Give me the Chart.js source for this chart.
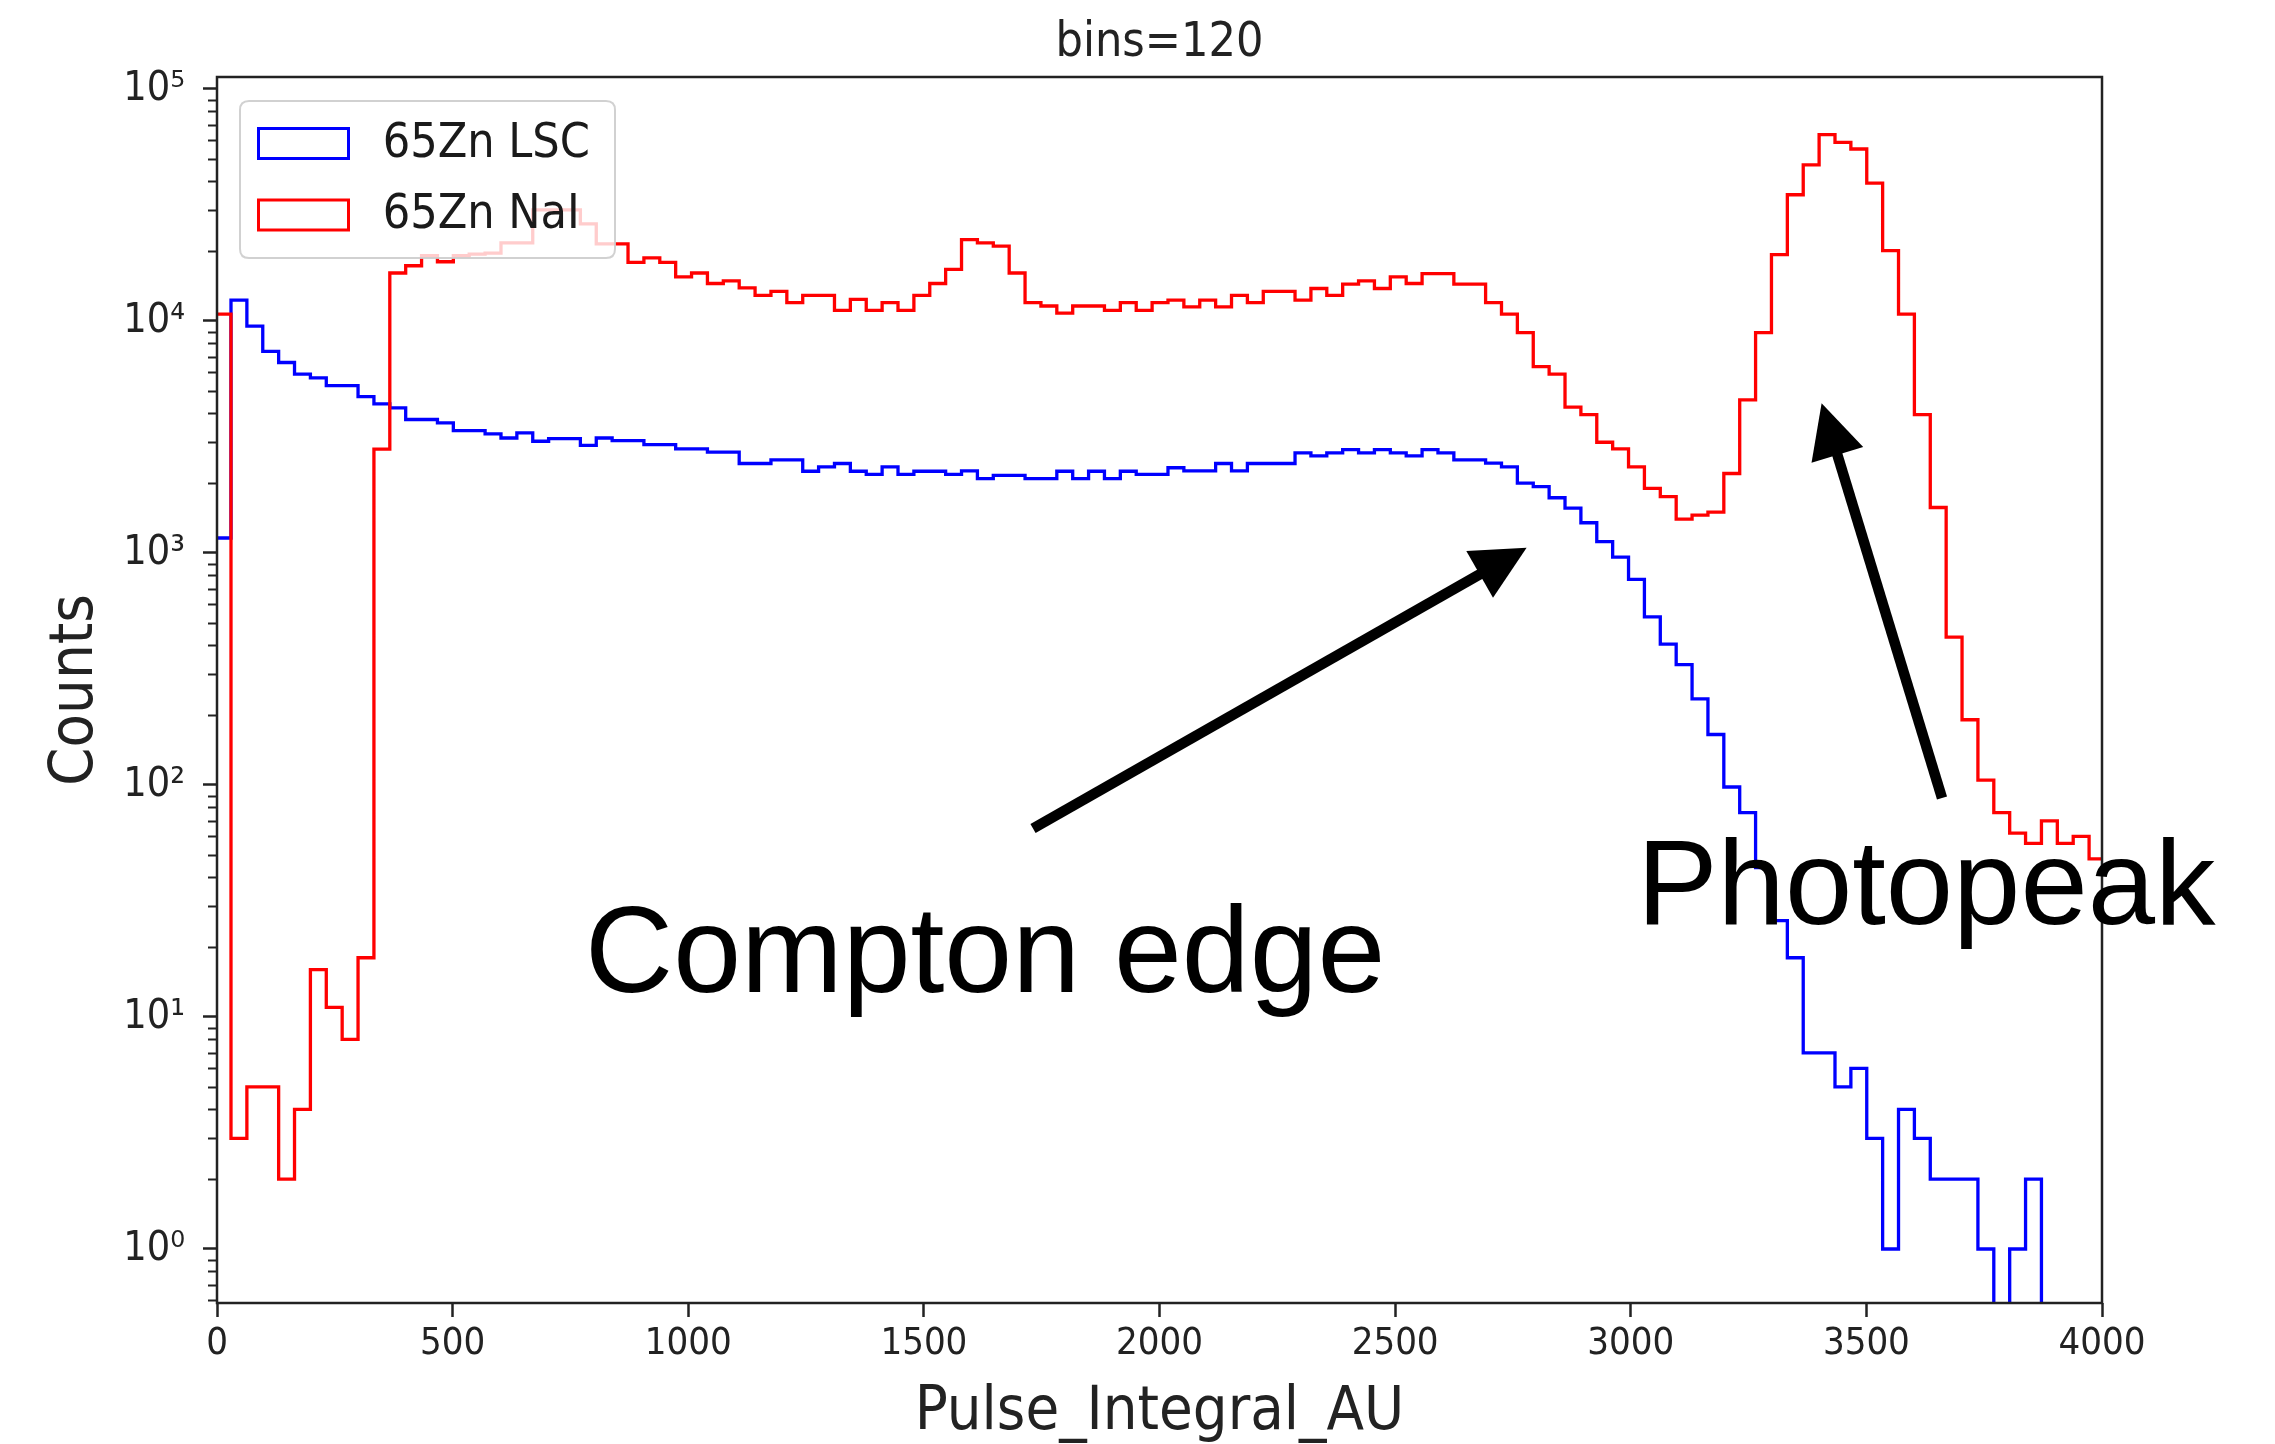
<!DOCTYPE html>
<html>
<head>
<meta charset="utf-8">
<script src="https://cdn.jsdelivr.net/npm/chart.js@4.4.0/dist/chart.umd.min.js"></script>
<style>
  html, body { margin: 0; padding: 0; background: #ffffff; }
  canvas { display: block; }
</style>
</head>
<body>
<canvas id="chart" width="2275" height="1444"></canvas>
<script>
// ---------------- data ----------------
const TITLE = 'bins=120';
const X_LABEL = 'Pulse_Integral_AU';
const Y_LABEL = 'Counts';
const SERIES_LABELS = ['65Zn LSC', '65Zn NaI'];

const BIN_START = -4;     // AU, left edge of the first bin
const BIN_WIDTH = 33.7;   // AU, width of every bin (120 bins)

const LSC_COUNTS = [
  1160, 12300, 9500, 7400, 6620, 5900, 5680, 5260, 5260, 4720,
  4390, 4220, 3760, 3760, 3640, 3370, 3370, 3260, 3130, 3290,
  3030, 3110, 3110, 2910, 3130, 3050, 3050, 2930, 2930, 2810,
  2810, 2720, 2720, 2430, 2430, 2520, 2520, 2250, 2350, 2430,
  2250, 2180, 2350, 2180, 2250, 2250, 2180, 2260, 2090, 2160,
  2160, 2090, 2090, 2250, 2090, 2250, 2090, 2250, 2180, 2180,
  2330, 2260, 2260, 2430, 2260, 2430, 2430, 2430, 2700, 2620,
  2700, 2790, 2700, 2790, 2700, 2620, 2790, 2700, 2520, 2520,
  2440, 2350, 2000, 1930, 1730, 1560, 1350, 1120, 960, 770,
  530, 405, 330, 235, 165, 98, 76, 44, 26, 18,
  7, 7, 5, 6, 3, 1, 4, 3, 2, 2,
  2, 1, 0, 1, 2, 0, 0, 0, 0, 0
];

const NAI_COUNTS = [
  10700, 3, 5, 5, 2, 4, 16, 11, 8, 18,
  2800, 16100, 17300, 19100, 18000, 19100, 19400, 19600, 21700, 21700,
  30100, 30100, 30100, 26200, 21500, 21500, 17900, 18700, 17900, 15500,
  16100, 14500, 14900, 13900, 12900, 13400, 12000, 12900, 12900, 11100,
  12400, 11100, 12000, 11100, 12900, 14500, 16700, 22400, 21700, 21000,
  16100, 12000, 11600, 10800, 11600, 11600, 11100, 12000, 11100, 12000,
  12300, 11500, 12300, 11500, 12900, 12000, 13400, 13400, 12300, 13800,
  12900, 14400, 14900, 13800, 15500, 14500, 16000, 16000, 14400, 14400,
  12000, 10700, 8900, 6350, 5900, 4250, 3950, 3000, 2810, 2350,
  1900, 1750, 1400, 1455, 1500, 2200, 4570, 8900, 19300, 35000,
  47100, 63600, 58900, 55100, 39300, 20100, 10700, 3950, 1570, 434,
  191, 105, 76, 62, 56, 70, 56, 60, 48, 45
];

const X_TICKS = [0, 500, 1000, 1500, 2000, 2500, 3000, 3500, 4000];
const Y_TICK_VALUES = [1, 10, 100, 1000, 10000, 100000];
const Y_TICK_LABELS = ['10\u2070', '10\u00B9', '10\u00B2', '10\u00B3', '10\u2074', '10\u2075'];
const X_MIN = 0, X_MAX = 4000;
const Y_MIN = 0.585, Y_MAX = 112600;
const ZERO_FLOOR = 0.01;   // empty bins are drawn below the axis floor, as matplotlib does

// annotations (data coordinates)
const COMPTON_TEXT = 'Compton edge';
const COMPTON_TEXT_POS = [781, 12.8];
const COMPTON_ARROW = [[1731.6, 64.9], [2779, 1054]];
const PHOTO_TEXT = 'Photopeak';
const PHOTO_TEXT_POS = [3013, 25.2];
const PHOTO_ARROW = [[3660.5, 87.9], [3405, 4419]];

// ---------------- helpers ----------------
const FONT = "'DejaVu Sans Condensed', 'DejaVu Sans', sans-serif";
const ANNOT_FONT = "'Liberation Sans', Arial, Helvetica, sans-serif";
const INK = '#222222';

function histPoints(counts) {
  const fl = v => (v > 0 ? v : ZERO_FLOOR);
  const pts = [{ x: BIN_START, y: ZERO_FLOOR }];
  counts.forEach((c, i) => pts.push({ x: BIN_START + i * BIN_WIDTH, y: fl(c) }));
  const endX = BIN_START + counts.length * BIN_WIDTH;
  pts.push({ x: endX, y: fl(counts[counts.length - 1]) });
  pts.push({ x: endX, y: ZERO_FLOOR });
  return pts;
}

const yTickList = [];
for (let e = -1; e <= 5; e++) {
  for (let m = 1; m <= 9; m++) {
    const v = m * Math.pow(10, e);
    if (v >= Y_MIN && v <= Y_MAX) yTickList.push({ value: v, major: m === 1 });
  }
}

// frame + legend drawn on top of the histogram lines
const framePlugin = {
  id: 'mplFrame',
  afterDatasetsDraw(chart) {
    const { ctx, chartArea: a } = chart;
    const y = chart.scales.y;
    ctx.save();
    // minor ticks on the log axis
    ctx.strokeStyle = INK;
    ctx.lineWidth = 2;
    y.ticks.forEach(t => {
      if (t.major) return;
      const py = Math.round(y.getPixelForValue(t.value)) + 0.5;
      ctx.beginPath();
      ctx.moveTo(a.left - 9, py);
      ctx.lineTo(a.left, py);
      ctx.stroke();
    });
    // axes box
    ctx.lineWidth = 2.5;
    ctx.strokeRect(a.left, a.top, a.right - a.left, a.bottom - a.top);

    // legend
    const bx = a.left + 23, by = a.top + 24, bw = 375, bh = 157, r = 9;
    ctx.beginPath();
    ctx.moveTo(bx + r, by);
    ctx.lineTo(bx + bw - r, by);
    ctx.quadraticCurveTo(bx + bw, by, bx + bw, by + r);
    ctx.lineTo(bx + bw, by + bh - r);
    ctx.quadraticCurveTo(bx + bw, by + bh, bx + bw - r, by + bh);
    ctx.lineTo(bx + r, by + bh);
    ctx.quadraticCurveTo(bx, by + bh, bx, by + bh - r);
    ctx.lineTo(bx, by + r);
    ctx.quadraticCurveTo(bx, by, bx + r, by);
    ctx.closePath();
    ctx.fillStyle = 'rgba(255,255,255,0.8)';
    ctx.fill();
    ctx.strokeStyle = 'rgba(204,204,204,0.9)';
    ctx.lineWidth = 2;
    ctx.stroke();

    const rows = [42.5, 114];
    chart.data.datasets.forEach((ds, i) => {
      const cy = by + rows[i];
      ctx.strokeStyle = ds.borderColor;
      ctx.lineWidth = 3;
      ctx.strokeRect(bx + 18.5, cy - 15, 90, 30);
      ctx.fillStyle = '#1a1a1a';
      ctx.font = '48px ' + FONT;
      ctx.textAlign = 'left';
      ctx.textBaseline = 'middle';
      ctx.fillText(ds.label, bx + 142.7, cy + 1);
    });
    ctx.restore();
  }
};

function drawArrow(ctx, x1, y1, x2, y2, shaft, headLen, headW) {
  const dx = x2 - x1, dy = y2 - y1, L = Math.hypot(dx, dy);
  const ux = dx / L, uy = dy / L;
  const bx = x2 - ux * headLen, by = y2 - uy * headLen;
  ctx.beginPath();
  ctx.moveTo(x1, y1);
  ctx.lineTo(bx + ux * 4, by + uy * 4);
  ctx.lineWidth = shaft;
  ctx.lineCap = 'butt';
  ctx.stroke();
  ctx.beginPath();
  ctx.moveTo(x2, y2);
  ctx.lineTo(bx - uy * headW / 2, by + ux * headW / 2);
  ctx.lineTo(bx + uy * headW / 2, by - ux * headW / 2);
  ctx.closePath();
  ctx.fill();
}

const annotationPlugin = {
  id: 'annotations',
  afterDraw(chart) {
    const { ctx } = chart;
    const xs = chart.scales.x, ys = chart.scales.y;
    const P = ([x, y]) => [xs.getPixelForValue(x), ys.getPixelForValue(y)];
    ctx.save();
    ctx.fillStyle = '#000';
    ctx.strokeStyle = '#000';
    [COMPTON_ARROW, PHOTO_ARROW].forEach(([tail, tip]) => {
      const [x1, y1] = P(tail), [x2, y2] = P(tip);
      drawArrow(ctx, x1, y1, x2, y2, 10.5, 54, 54);
    });
    ctx.textAlign = 'left';
    ctx.textBaseline = 'alphabetic';
    ctx.font = '122px ' + ANNOT_FONT;
    let [tx, ty] = P(COMPTON_TEXT_POS);
    ctx.fillText(COMPTON_TEXT, tx, ty);
    ctx.font = '121px ' + ANNOT_FONT;
    [tx, ty] = P(PHOTO_TEXT_POS);
    ctx.fillText(PHOTO_TEXT, tx, ty);
    ctx.restore();
  }
};

// ---------------- chart ----------------
new Chart(document.getElementById('chart'), {
  type: 'line',
  data: {
    datasets: [
      {
        label: SERIES_LABELS[0],
        data: histPoints(LSC_COUNTS),
        borderColor: '#0000ff',
        backgroundColor: 'rgba(0,0,0,0)',
        borderWidth: 3.3,
        stepped: 'before',
        pointRadius: 0,
        pointHoverRadius: 0,
        fill: false,
        order: 1
      },
      {
        label: SERIES_LABELS[1],
        data: histPoints(NAI_COUNTS),
        borderColor: '#ff0000',
        backgroundColor: 'rgba(0,0,0,0)',
        borderWidth: 3.3,
        stepped: 'before',
        pointRadius: 0,
        pointHoverRadius: 0,
        fill: false,
        order: 0
      }
    ]
  },
  options: {
    responsive: false,
    animation: false,
    events: [],
    layout: { padding: { left: 0, right: 173, top: 0, bottom: 0 } },
    plugins: {
      legend: { display: false },
      tooltip: { enabled: false },
      title: {
        display: true,
        text: TITLE,
        fullSize: false,
        color: INK,
        font: { family: FONT, size: 48, weight: 'normal' },
        padding: { top: 15, bottom: 4.4 }
      }
    },
    scales: {
      x: {
        type: 'linear',
        min: X_MIN,
        max: X_MAX,
        afterBuildTicks: s => { s.ticks = X_TICKS.map(v => ({ value: v })); },
        afterFit: s => { s.height = 141; },
        ticks: {
          callback: v => String(v),
          autoSkip: false,
          maxRotation: 0,
          color: INK,
          padding: 4,
          font: { family: FONT, size: 38 }
        },
        grid: {
          display: true,
          drawOnChartArea: false,
          drawTicks: true,
          tickLength: 14,
          tickWidth: 2.5,
          tickColor: INK
        },
        border: { display: false },
        title: {
          display: true,
          text: X_LABEL,
          color: INK,
          font: { family: FONT, size: 61, lineHeight: 1 },
          padding: { top: 0, bottom: 0 }
        }
      },
      y: {
        type: 'logarithmic',
        min: Y_MIN,
        max: Y_MAX,
        afterBuildTicks: s => { s.ticks = yTickList.map(t => ({ value: t.value, major: t.major })); },
        afterFit: s => { s.width = 217; },
        ticks: {
          callback: v => {
            const k = Y_TICK_VALUES.indexOf(v);
            return k >= 0 ? Y_TICK_LABELS[k] : '';
          },
          autoSkip: false,
          color: INK,
          padding: 18,
          font: { family: FONT, size: 41 }
        },
        grid: {
          display: true,
          drawOnChartArea: false,
          drawTicks: true,
          tickLength: 14,
          tickWidth: 2.5,
          tickColor: c => (c.tick && c.tick.major ? INK : 'rgba(0,0,0,0)')
        },
        border: { display: false },
        title: {
          display: true,
          text: Y_LABEL,
          color: INK,
          font: { family: FONT, size: 61 },
          padding: { top: 40, bottom: 0 }
        }
      }
    }
  },
  plugins: [framePlugin, annotationPlugin]
});
</script>
</body>
</html>
